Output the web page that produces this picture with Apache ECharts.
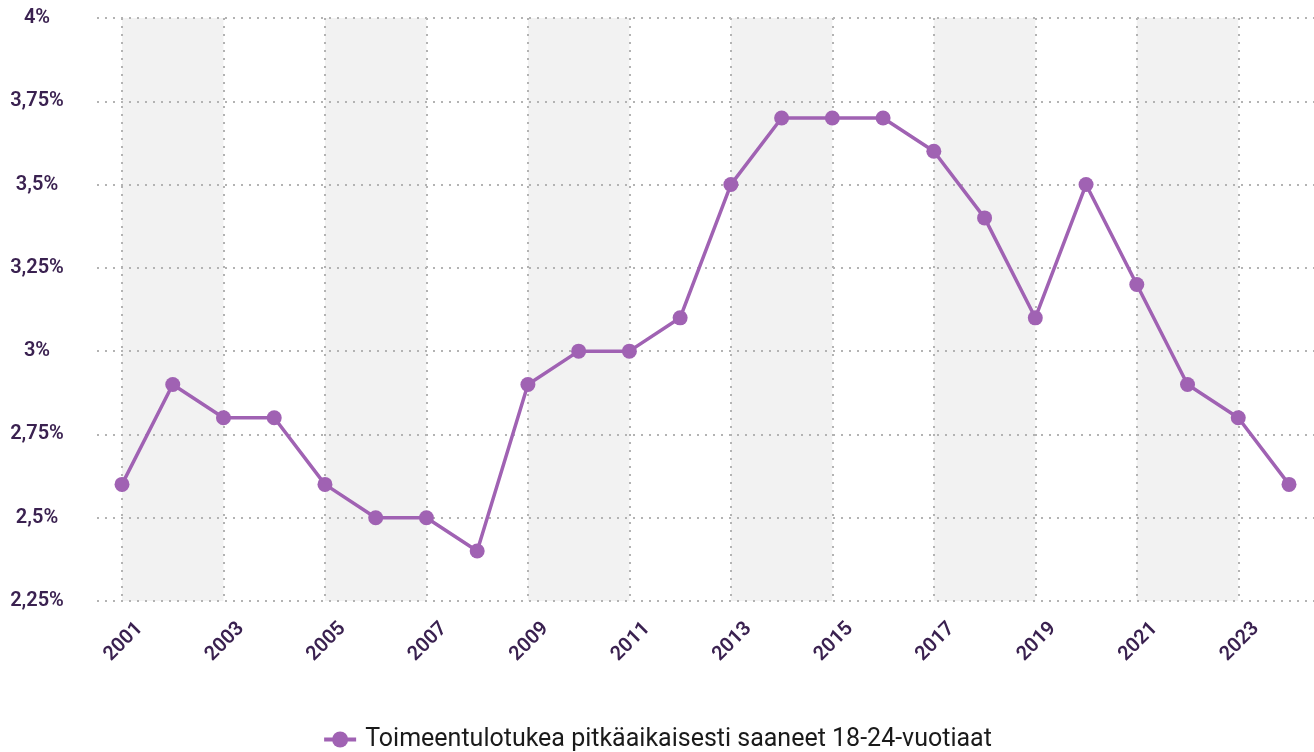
<!DOCTYPE html>
<html>
<head>
<meta charset="utf-8">
<script src="https://cdn.jsdelivr.net/npm/echarts@6/dist/echarts.min.js"></script>
<style>
  html, body { margin: 0; padding: 0; background: #fff; }
  #main { width: 1314px; height: 752px; }
</style>
</head>
<body>
<div id="main"></div>
<script>
// ==============================
// Data
// ==============================

const years = [
    '2001', '2002', '2003', '2004', '2005', '2006', '2007', '2008',
    '2009', '2010', '2011', '2012', '2013', '2014', '2015', '2016',
    '2017', '2018', '2019', '2020', '2021', '2022', '2023', '2024'
];

const shares = [
    2.6, 2.9, 2.8, 2.8, 2.6, 2.5, 2.5, 2.4,
    2.9, 3.0, 3.0, 3.1, 3.5, 3.7, 3.7, 3.7,
    3.6, 3.4, 3.1, 3.5, 3.2, 2.9, 2.8, 2.6
];

const seriesName = 'Toimeentulotukea pitkäaikaisesti saaneet 18-24-vuotiaat';

const yMin = 2.25;
const yMax = 4;
const yStep = 0.25;


// ==============================
// Chart
// ==============================

const myChart = echarts.init(document.getElementById('main'));

const labelColor = '#3a2150';
const gridLine = {
    color: '#b3b3b3',
    width: 2,
    type: [2, 6]
};

function pct(v){
    return String(+v.toFixed(2)).replace('.', ',') + '%';
}

myChart.setOption({

    backgroundColor: '#ffffff',

    animation: false,

    // grid 0: full width horizontal lines + y labels
    // grid 1: data area (first/last year inset half a step)
    grid: [
        { left: 97, right: 0, top: 18, bottom: 151 },
        { left: 122, right: 25, top: 18, bottom: 151 }
    ],

    legend: {
        top: 722,
        left: 'center',
        itemWidth: 32,
        itemHeight: 20,
        itemGap: 10,
        lineStyle: { width: 4 },
        textStyle: {
            fontFamily: 'Roboto',
            fontSize: 25,
            color: '#1a1a1a',
            padding: [0, 0, 0, 4]
        },
        data: [seriesName]
    },

    xAxis: [
        {
            gridIndex: 0,
            type: 'category',
            data: years,
            show: false
        },
        {
            gridIndex: 1,
            type: 'category',
            data: years,
            boundaryGap: false,
            z: 0,
            axisLine: { show: false },
            axisTick: { show: false },
            axisLabel: {
                interval: 1,
                rotate: 45,
                margin: 7,
                align: 'right',
                verticalAlign: 'top',
                lineHeight: 50,
                fontFamily: 'Roboto',
                fontWeight: 600,
                fontSize: 20,
                color: labelColor
            },
            splitLine: {
                show: true,
                interval: 1,
                lineStyle: gridLine
            },
            splitArea: {
                show: true,
                interval: 1,
                areaStyle: {
                    color: ['#f2f2f2', 'rgba(255,255,255,0)']
                }
            }
        }
    ],

    yAxis: [
        {
            gridIndex: 0,
            type: 'value',
            min: yMin,
            max: yMax,
            interval: yStep,
            z: 2,
            axisLine: { show: false },
            axisTick: { show: false },
            axisLabel: {
                align: 'center',
                margin: 60,
                fontFamily: 'Roboto',
                fontWeight: 600,
                fontSize: 20,
                color: labelColor,
                formatter: pct
            },
            splitLine: {
                show: true,
                lineStyle: gridLine
            }
        },
        {
            gridIndex: 1,
            type: 'value',
            min: yMin,
            max: yMax,
            interval: yStep,
            show: false,
            splitLine: { show: false }
        }
    ],

    series: [
        {
            name: seriesName,
            type: 'line',
            xAxisIndex: 1,
            yAxisIndex: 1,
            data: shares,
            z: 5,
            symbol: 'circle',
            symbolSize: 15,
            itemStyle: { color: '#a062b3' },
            lineStyle: { color: '#a062b3', width: 3.5 }
        }
    ]

});
</script>
</body>
</html>
